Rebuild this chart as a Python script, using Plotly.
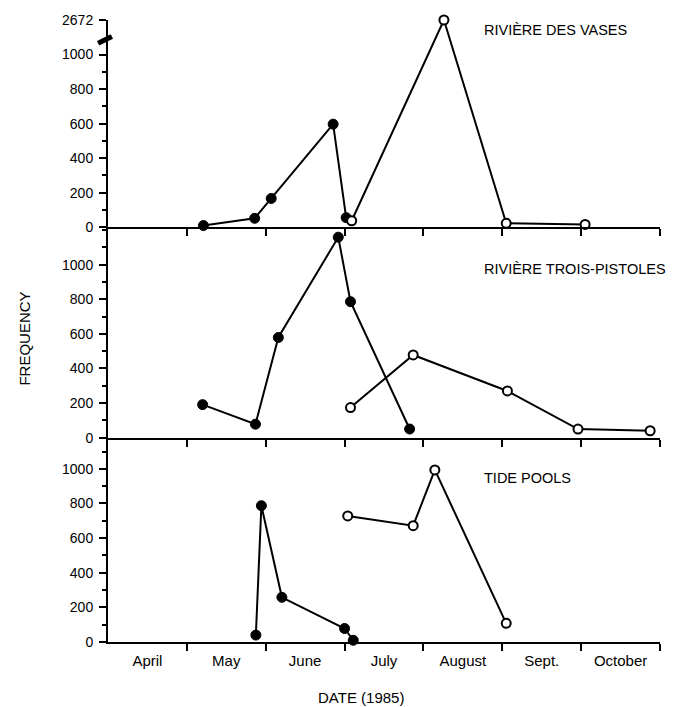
import plotly.graph_objects as go

# ---------------- data ----------------
months = ["April", "May", "June", "July", "August", "Sept.", "October"]
# x positions are in months after 1 April (0 = 1 April, 1 = 1 May, ...)

vases_fill_x = [1.21, 1.86, 2.07, 2.855, 3.02]
vases_fill_y = [10, 52, 167, 597, 56]
vases_open_x = [3.09, 4.26, 5.05, 6.05]
vases_open_y = [38, 2672, 23, 17]

trois_fill_x = [1.20, 1.87, 2.16, 2.92, 3.075, 3.825]
trois_fill_y = [191, 78, 579, 1159, 786, 50]
trois_open_x = [3.075, 3.87, 5.065, 5.96, 6.875]
trois_open_y = [174, 478, 270, 50, 40]

tide_fill_x = [1.875, 1.945, 2.205, 3.0, 3.11]
tide_fill_y = [40, 787, 258, 78, 10]
tide_open_x = [3.04, 3.87, 4.145, 5.05]
tide_open_y = [728, 672, 994, 108]

panel_titles = ["RIVIÈRE DES VASES", "RIVIÈRE TROIS-PISTOLES", "TIDE POOLS"]
y_ticks = [0, 200, 400, 600, 800, 1000]
break_top_value = 2672

# broken axis in the top panel: 1000..2672 compressed into 1000..1200
def broken(v):
    return v if v <= 1000 else 1000 + (v - 1000) * 200 / (break_top_value - 1000)

FONT = "Liberation Sans, Arial, sans-serif"
fig = go.Figure()

def add_series(x, y, ax, filled):
    if filled:
        marker = dict(size=10, color="black", line=dict(color="black", width=1))
    else:
        marker = dict(size=9, color="white", line=dict(color="black", width=2))
    fig.add_trace(go.Scatter(
        x=x, y=y, mode="lines+markers", xaxis="x" + ax, yaxis="y" + ax,
        line=dict(color="black", width=2), marker=marker,
        cliponaxis=False, showlegend=False, hoverinfo="x+y"))

add_series(vases_fill_x, [broken(v) for v in vases_fill_y], "", True)
add_series(vases_open_x, [broken(v) for v in vases_open_y], "", False)
add_series(trois_fill_x, trois_fill_y, "2", True)
add_series(trois_open_x, trois_open_y, "2", False)
add_series(tide_fill_x, tide_fill_y, "3", True)
add_series(tide_open_x, tide_open_y, "3", False)

month_edges = list(range(1, len(months) + 1))
month_centres = [i + 0.5 for i in range(len(months))]

xcommon = dict(range=[0, 7], showline=True, linecolor="black", linewidth=2,
               showgrid=False, zeroline=False, fixedrange=True)
ycommon = dict(showline=True, linecolor="black", linewidth=2, showgrid=False,
               zeroline=False, ticks="outside", ticklen=7, tickwidth=1.5,
               tickcolor="black", ticklabelstandoff=3,
               tickfont=dict(family=FONT, size=14, color="black"))

top_dom = [0.6667, 1.0]
mid_dom = [0.3285, 0.6667]
bot_dom = [0.0, 0.3285]

fig.update_layout(
    width=680, height=707,
    margin=dict(l=108, r=20, t=15, b=65),
    paper_bgcolor="white", plot_bgcolor="white",
    font=dict(family=FONT, color="black"),
    xaxis=dict(**xcommon, domain=[0, 1], anchor="y", tickvals=month_edges,
               ticks="outside", ticklen=7, tickwidth=2, tickcolor="black",
               showticklabels=False),
    xaxis2=dict(**xcommon, domain=[0, 1], anchor="y2", tickvals=month_edges,
                ticks="outside", ticklen=7, tickwidth=2, tickcolor="black",
                showticklabels=False),
    xaxis3=dict(**xcommon, domain=[0, 1], anchor="y3", tickvals=month_centres,
                ticktext=months, ticks="", ticklabelstandoff=4,
                tickfont=dict(family=FONT, size=15, color="black"),
                minor=dict(tickvals=month_edges, ticks="outside", ticklen=7,
                           tickwidth=2, tickcolor="black")),
    yaxis=dict(**ycommon, domain=top_dom, anchor="x", range=[0, broken(break_top_value)],
               tickvals=y_ticks + [broken(break_top_value)],
               ticktext=[str(v) for v in y_ticks] + [str(break_top_value)],
               minor=dict(tickvals=[100, 300, 500, 700, 900], ticks="outside",
                          ticklen=4, tickwidth=1.5, tickcolor="black")),
    yaxis2=dict(**ycommon, domain=mid_dom, anchor="x2", range=[0, 1216],
                tickvals=y_ticks,
                minor=dict(dtick=100, ticks="outside", ticklen=4, tickwidth=1.5,
                           tickcolor="black")),
    yaxis3=dict(**ycommon, domain=bot_dom, anchor="x3", range=[0, 1180],
                tickvals=y_ticks,
                minor=dict(dtick=100, ticks="outside", ticklen=4, tickwidth=1.5,
                           tickcolor="black")),
)

# panel titles
for title, ax, ypos in zip(panel_titles, ["", "2", "3"], [0.952, 0.802, 0.802]):
    fig.add_annotation(text=title, xref="x" + ax + " domain", yref="y" + ax + " domain",
                       x=0.678, y=ypos, xanchor="left", yanchor="middle",
                       showarrow=False, font=dict(family=FONT, size=14.5, color="black"))

# x title
fig.add_annotation(text="DATE (1985)", xref="paper", yref="paper", x=0.4583, y=-0.0893,
                   showarrow=False, xanchor="center", yanchor="middle",
                   font=dict(family=FONT, size=15, color="black"))

# shared y title
fig.add_annotation(text="FREQUENCY", xref="paper", yref="paper", x=-0.152, y=0.488,
                   textangle=-90, showarrow=False, xanchor="center", yanchor="middle",
                   font=dict(family=FONT, size=15, color="black"))

# axis-break mark on the top panel
fig.add_shape(type="line", xref="x domain", yref="y", x0=-0.018, x1=0.007,
              y0=1065, y1=1105, line=dict(color="black", width=5))

fig.write_html("out.html")
